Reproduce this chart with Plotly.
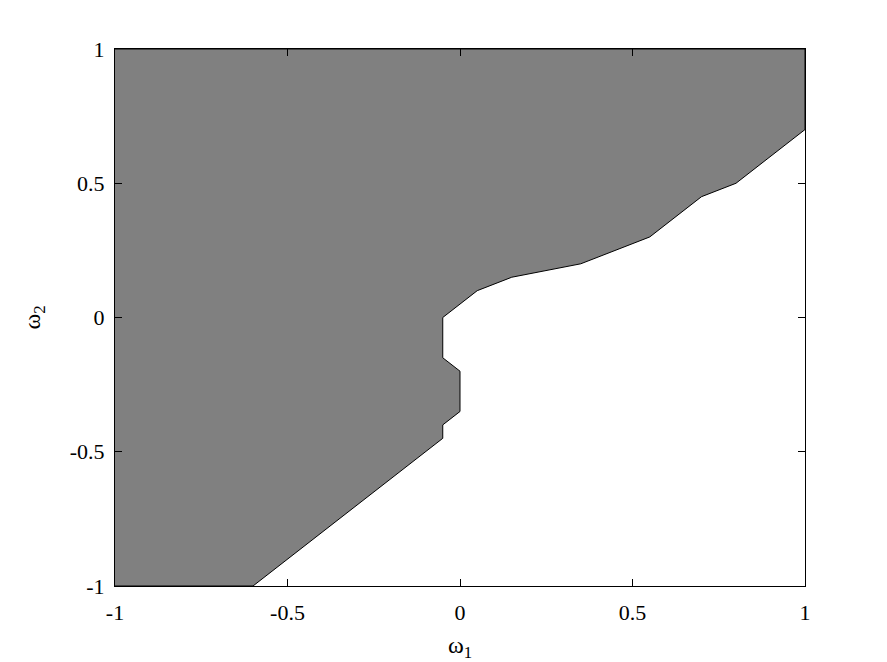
"""
Región estable en el plano (w1, w2).
"""

import plotly.graph_objects as go

# contorno de la región sombreada
w1 = [-1, -0.6, -0.05, -0.05, 0, 0, -0.05, -0.05, 0.05, 0.15, 0.35, 0.55, 0.7, 0.8, 1, 1, -1]
w2 = [-1, -1, -0.45, -0.4, -0.35, -0.2, -0.15, 0, 0.1, 0.15, 0.2, 0.3, 0.45, 0.5, 0.7, 1, 1]

tick_vals = [-1, -0.5, 0, 0.5, 1]
tick_text = ['-1', '-0.5', '0', '0.5', '1']

fig = go.Figure()

fig.add_trace(go.Scatter(
    x=w1,
    y=w2,
    mode='lines',
    fill='toself',
    fillcolor='#808080',
    line=dict(color='black', width=1),
    hoverinfo='skip',
    showlegend=False
))

axis_style = dict(
    range=[-1, 1],
    tickvals=tick_vals,
    ticktext=tick_text,
    ticks='inside',
    ticklen=7,
    tickcolor='black',
    showline=True,
    linecolor='black',
    linewidth=1,
    mirror='ticks',
    showgrid=False,
    zeroline=False,
    automargin=False,
    tickfont=dict(size=22, color='black')
)

fig.update_xaxes(**axis_style, ticklabelstandoff=7,
                 title=dict(text='ω<sub>1</sub>', font=dict(size=24), standoff=16))
fig.update_yaxes(**axis_style, ticklabelstandoff=5,
                 title=dict(text='ω<sub>2</sub>', font=dict(size=24), standoff=22))

# la página añade 8 px de margen al cuerpo
fig.update_layout(
    width=871,
    height=654,
    font=dict(family='Liberation Serif', color='black'),
    plot_bgcolor='white',
    paper_bgcolor='white',
    margin=dict(l=107, r=74, t=41, b=76)
)

fig.write_html("out.html")
